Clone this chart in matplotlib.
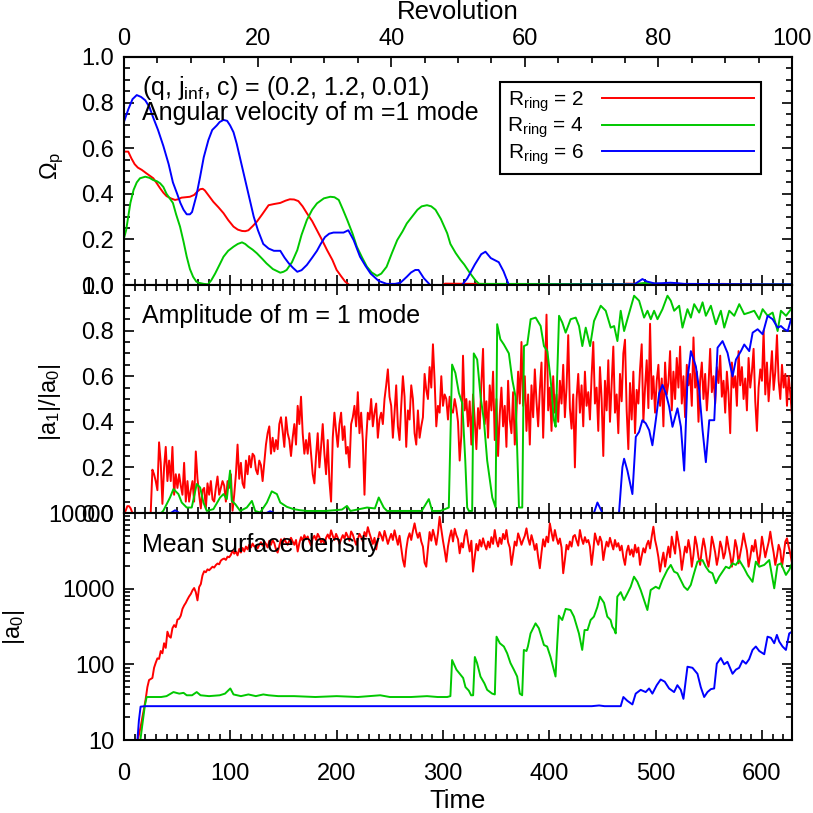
import numpy as np
import matplotlib
matplotlib.use("Agg")
import matplotlib.pyplot as plt
from matplotlib.ticker import MultipleLocator, FixedLocator, LogLocator, FuncFormatter, NullFormatter

plt.rcParams['font.family'] = ['Liberation Sans', 'DejaVu Sans']
plt.rcParams['mathtext.fontset'] = 'custom'
plt.rcParams['mathtext.rm'] = 'Liberation Sans'
plt.rcParams['mathtext.it'] = 'Liberation Sans:italic'
plt.rcParams['mathtext.bf'] = 'Liberation Sans:bold'

# ---- data ----
t_max = 2 * np.pi * 100          # 100 revolutions
rev_period = 2 * np.pi
rev_ticks = [0, 20, 40, 60, 80, 100]

# pattern speed of the m=1 mode (top panel)
t_om_r = [0, 4, 7, 10, 13, 16.7, 21, 24, 27.6, 31, 34, 37, 40, 44, 48, 51, 54, 58, 62, 66, 69, 71.6, 74, 76,
          80, 84, 89, 93.6, 98, 103, 107, 111, 114, 117, 121, 125, 130, 136, 141, 147, 152, 156, 160, 164,
          168, 172, 177, 181.5, 186, 191, 196, 200, 204, 208, 212, 300, 302, 470, 472, 560, 562, 628.3]
om_r = [0.585, 0.585, 0.555, 0.53, 0.515, 0.505, 0.49, 0.48, 0.468, 0.445, 0.424, 0.405, 0.39, 0.38, 0.373,
        0.376, 0.383, 0.385, 0.387, 0.395, 0.41, 0.42, 0.422, 0.415, 0.39, 0.365, 0.34, 0.315, 0.285, 0.256,
        0.243, 0.237, 0.236, 0.24, 0.258, 0.278, 0.31, 0.35, 0.355, 0.36, 0.37, 0.376, 0.375, 0.368, 0.345,
        0.315, 0.28, 0.24, 0.2, 0.153, 0.11, 0.066, 0.04, 0.015, 0.0, 0.0, 0.006, 0.0, 0.006, 0.0, 0.005, 0.0]

t_om_g = [0, 2, 4, 6, 9, 12, 15, 20, 24, 27.6, 31, 34, 37, 40, 43, 46, 49, 52.7, 56, 59, 62, 65, 68, 70, 75,
          79, 82, 85.7, 90, 93.6, 98, 103, 107, 111, 114, 117, 121, 125, 130, 134, 140, 147, 150, 153, 158,
          163, 167, 172, 177, 181.5, 188, 194, 198, 202, 206, 210, 215, 219, 224, 228.5, 233, 238, 242, 247,
          252, 257, 262, 266, 271, 276, 280, 285, 289, 293, 298, 304, 307, 312, 316.5, 320, 325, 330.6, 334,
          480, 490, 500, 510, 628.3]
om_g = [0.205, 0.24, 0.30, 0.36, 0.417, 0.45, 0.468, 0.475, 0.47, 0.46, 0.455, 0.446, 0.43, 0.40, 0.38, 0.36,
        0.31, 0.256, 0.19, 0.124, 0.07, 0.036, 0.015, 0.01, 0.005, 0.003, 0.02, 0.05, 0.09, 0.124, 0.15, 0.168,
        0.18, 0.187, 0.18, 0.168, 0.155, 0.139, 0.115, 0.095, 0.07, 0.054, 0.058, 0.066, 0.1, 0.153, 0.22,
        0.285, 0.33, 0.358, 0.38, 0.387, 0.385, 0.373, 0.33, 0.285, 0.225, 0.168, 0.12, 0.08, 0.055, 0.04,
        0.05, 0.08, 0.14, 0.197, 0.235, 0.27, 0.30, 0.33, 0.345, 0.35, 0.345, 0.33, 0.29, 0.227, 0.18, 0.14,
        0.11, 0.09, 0.055, 0.02, 0.005, 0.004, 0.009, 0.006, 0.003, 0.003]

t_om_b = [0, 4, 8, 12, 16, 20, 24, 27, 32, 37, 42, 46, 50, 53, 56, 59, 62, 64, 68, 71.6, 75, 79.4, 83, 87.3,
          90, 93.6, 97, 99.8, 103, 106, 110, 114, 118, 122, 126, 131, 136, 141, 147, 151, 155, 159, 163, 167,
          172, 177, 181.5, 185, 189, 193, 197, 202, 206.5, 211, 216, 222, 227, 232, 239.5, 247, 255, 260, 266,
          270, 274, 277, 282, 288, 318, 323, 330, 336, 340, 345, 352.5, 357, 362, 480, 484, 487.6, 492, 499,
          506, 514, 520, 527, 600, 628.3]
om_b = [0.716, 0.77, 0.815, 0.833, 0.825, 0.81, 0.78, 0.74, 0.68, 0.61, 0.53, 0.45, 0.40, 0.36, 0.33, 0.31,
        0.31, 0.32, 0.39, 0.475, 0.56, 0.636, 0.68, 0.70, 0.715, 0.724, 0.72, 0.70, 0.67, 0.62, 0.54, 0.46,
        0.38, 0.30, 0.24, 0.18, 0.16, 0.15, 0.15, 0.12, 0.095, 0.075, 0.058, 0.065, 0.088, 0.12, 0.15, 0.18,
        0.21, 0.225, 0.23, 0.23, 0.23, 0.24, 0.197, 0.124, 0.085, 0.05, 0.018, 0.005, 0.005, 0.01, 0.036,
        0.055, 0.066, 0.066, 0.03, 0.0, 0.0, 0.03, 0.09, 0.135, 0.146, 0.118, 0.10, 0.06, 0.0, 0.003, 0.015,
        0.026, 0.015, 0.007, 0.008, 0.01, 0.008, 0.005, 0.003, 0.003]

# |a1|/|a0|, red run sampled every quarter revolution
dt_fine = np.pi / 2
amp_r = [0.0, 0.01, 0.03, 0.03, 0.02, 0.0, 0.0, 0.0, 0.0, 0.0, 0.0, 0.0, 0.0, 0.0, 0.0, 0.0, 0.0, 0.19, 0.17, 0.14,
         0.10, 0.31, 0.22, 0.04, 0.20, 0.29, 0.14, 0.23, 0.14, 0.29, 0.08, 0.17, 0.11, 0.17, 0.12, 0.08, 0.22, 0.05, 0.14, 0.05,
         0.10, 0.14, 0.05, 0.27, 0.15, 0.08, 0.02, 0.10, 0.11, 0.02, 0.13, 0.08, 0.14, 0.06, 0.05, 0.11, 0.16, 0.08, 0.11, 0.14,
         0.12, 0.05, 0.14, 0.11, 0.17, 0.01, 0.08, 0.17, 0.30, 0.15, 0.22, 0.13, 0.11, 0.23, 0.17, 0.25, 0.20, 0.26, 0.25, 0.19,
         0.17, 0.23, 0.21, 0.14, 0.22, 0.30, 0.35, 0.38, 0.26, 0.33, 0.27, 0.32, 0.28, 0.39, 0.42, 0.36, 0.29, 0.42, 0.35, 0.32,
         0.25, 0.33, 0.39, 0.30, 0.47, 0.39, 0.51, 0.35, 0.26, 0.32, 0.26, 0.35, 0.26, 0.17, 0.13, 0.25, 0.35, 0.20, 0.29, 0.39,
         0.26, 0.17, 0.32, 0.14, 0.05, 0.33, 0.44, 0.36, 0.29, 0.39, 0.44, 0.32, 0.38, 0.26, 0.29, 0.20, 0.39, 0.42, 0.47, 0.38,
         0.53, 0.35, 0.44, 0.32, 0.08, 0.32, 0.44, 0.41, 0.50, 0.38, 0.44, 0.48, 0.33, 0.41, 0.44, 0.39, 0.50, 0.56, 0.63, 0.51,
         0.47, 0.33, 0.44, 0.56, 0.38, 0.32, 0.47, 0.60, 0.51, 0.29, 0.45, 0.41, 0.56, 0.50, 0.35, 0.30, 0.45, 0.33, 0.38, 0.42,
         0.61, 0.54, 0.50, 0.64, 0.55, 0.74, 0.58, 0.38, 0.47, 0.44, 0.60, 0.47, 0.52, 0.50, 0.41, 0.51, 0.45, 0.44, 0.50, 0.46,
         0.40, 0.23, 0.34, 0.69, 0.45, 0.50, 0.38, 0.49, 0.30, 0.52, 0.41, 0.28, 0.46, 0.37, 0.57, 0.72, 0.39, 0.49, 0.33, 0.56,
         0.45, 0.62, 0.32, 0.50, 0.25, 0.43, 0.55, 0.38, 0.47, 0.29, 0.58, 0.41, 0.35, 0.53, 0.30, 0.44, 0.62, 0.48, 0.75, 0.47,
         0.60, 0.36, 0.52, 0.30, 0.56, 0.42, 0.63, 0.49, 0.38, 0.54, 0.66, 0.33, 0.58, 0.87, 0.45, 0.55, 0.36, 0.60, 0.44, 0.52,
         0.40, 0.58, 0.48, 0.65, 0.42, 0.55, 0.78, 0.46, 0.37, 0.52, 0.20, 0.50, 0.61, 0.44, 0.56, 0.38, 0.62, 0.47, 0.53, 0.41,
         0.60, 0.75, 0.48, 0.55, 0.36, 0.64, 0.50, 0.25, 0.58, 0.45, 0.67, 0.40, 0.57, 0.73, 0.44, 0.52, 0.35, 0.61, 0.49, 0.70,
         0.76, 0.45, 0.28, 0.57, 0.41, 0.62, 0.35, 0.54, 0.48, 0.63, 0.74, 0.40, 0.55, 0.67, 0.46, 0.83, 0.50, 0.60, 0.44, 0.58,
         0.65, 0.47, 0.59, 0.38, 0.66, 0.52, 0.57, 0.71, 0.45, 0.62, 0.50, 0.68, 0.55, 0.73, 0.48, 0.60, 0.42, 0.65, 0.56, 0.61,
         0.47, 0.77, 0.55, 0.62, 0.40, 0.58, 0.66, 0.50, 0.61, 0.45, 0.56, 0.72, 0.53, 0.60, 0.48, 0.64, 0.57, 0.69, 0.51, 0.58,
         0.44, 0.62, 0.52, 0.35, 0.66, 0.55, 0.60, 0.47, 0.71, 0.56, 0.64, 0.50, 0.59, 0.45, 0.68, 0.55, 0.62, 0.72, 0.49, 0.36,
         0.55, 0.63, 0.58, 0.80, 0.52, 0.66, 0.49, 0.60, 0.71, 0.54, 0.62, 0.78, 0.58, 0.50, 0.65, 0.55, 0.61, 0.47, 0.60, 0.52, 0.43]

t_amp_g = [0, 35, 37, 43.3, 46.5, 51.2, 54.3, 59, 63.7, 68.4, 71.6, 74.7, 77.9, 84.1, 90.4, 93.6, 96.7, 99.8,
           101.4, 104.6, 109.3, 115.5, 120.3, 123.4, 128.1, 134.4, 139, 143.8, 147, 153.2, 159.5, 165.8, 172,
           190, 205, 209.7, 213, 228.6, 236, 239.6, 244.3, 247.4, 280, 286.7, 289.9, 297.7, 305.5, 308.6, 311.7,
           315, 318.2, 321, 322.8, 324.4, 327.5, 329, 332.2, 335.4, 338.5, 341.6, 346.4, 349.5, 351, 354, 357.3,
           362, 365.2, 368.3, 371.5, 374.6, 376.2, 379.3, 382.5, 387.2, 391.9, 395, 398.2, 401.3, 404.4, 406,
           409.2, 412.3, 415.4, 420.1, 424.9, 428, 431.1, 434.3, 438.4, 442.1, 448.4, 453.1, 457.8, 461, 464.1,
           467.2, 470.4, 473.5, 479.8, 484.5, 489.2, 492.4, 495.5, 498.6, 501.8, 506.5, 511.2, 514.3, 517.5,
           522.2, 525.3, 530, 533.2, 536.3, 541, 544.2, 547.3, 552, 556.7, 561.4, 564.6, 569.3, 574, 578.7,
           583.4, 588.1, 592.8, 597.5, 600.7, 605.4, 610.1, 614.8, 617.9, 622.7, 627.4]
amp_g = [0.0, 0.0, 0.01, 0.068, 0.105, 0.083, 0.046, 0.024, 0.024, 0.127, 0.112, 0.046, 0.009, 0.017, 0.068,
         0.083, 0.061, 0.186, 0.053, 0.039, 0.009, 0.024, 0.053, 0.009, 0.002, 0.046, 0.095, 0.083, 0.046, 0.027,
         0.017, 0.012, 0.009, 0.009, 0.015, 0.031, 0.009, 0.024, 0.02, 0.068, 0.024, 0.009, 0.009, 0.061, 0.009,
         0.009, 0.024, 0.651, 0.614, 0.526, 0.481, 0.23, 0.024, 0.009, 0.009, 0.70, 0.673, 0.51, 0.407, 0.23,
         0.068, 0.024, 0.828, 0.762, 0.739, 0.70, 0.585, 0.51, 0.024, 0.024, 0.732, 0.739, 0.85, 0.857, 0.82,
         0.732, 0.71, 0.585, 0.407, 0.378, 0.865, 0.835, 0.791, 0.85, 0.857, 0.82, 0.732, 0.813, 0.732, 0.842,
         0.909, 0.887, 0.813, 0.82, 0.754, 0.887, 0.798, 0.85, 0.953, 0.931, 0.857, 0.887, 0.85, 0.887, 0.85,
         0.894, 0.953, 0.931, 0.887, 0.909, 0.813, 0.894, 0.857, 0.916, 0.879, 0.924, 0.865, 0.909, 0.828, 0.887,
         0.813, 0.887, 0.865, 0.916, 0.872, 0.879, 0.887, 0.85, 0.894, 0.865, 0.879, 0.798, 0.887, 0.865, 0.894]

t_amp_b = [0, 44, 48, 52, 134, 137.5, 141, 442, 445.3, 450, 465.6, 468.8, 470.4, 473.5, 478.2, 481.4, 484.5,
           487.6, 490.8, 494, 497, 500.2, 503.4, 506.5, 509.6, 512.8, 515.9, 520.6, 523.8, 526.9, 530, 533.2,
           537.9, 541, 544.2, 547.3, 550.5, 555.2, 558.3, 563, 567.7, 572.4, 575.6, 580.3, 583.4, 588.1, 591.3,
           596, 600.7, 605.4, 610.1, 614.8, 617.9, 621.1, 624.3, 627.4]
amp_b = [0.0, 0.0, 0.012, 0.0, 0.0, 0.008, 0.0, 0.0, 0.046, 0.0, 0.0, 0.201, 0.238, 0.186, 0.083, 0.334, 0.356,
         0.407, 0.393, 0.363, 0.297, 0.407, 0.526, 0.562, 0.526, 0.466, 0.378, 0.459, 0.378, 0.186, 0.585, 0.71,
         0.643, 0.54, 0.363, 0.223, 0.407, 0.407, 0.725, 0.754, 0.702, 0.599, 0.673, 0.71, 0.739, 0.71, 0.791,
         0.806, 0.784, 0.865, 0.85, 0.813, 0.82, 0.806, 0.798, 0.85]

# |a0|, red run on the same quarter-revolution grid
dens_r = [2, 2.5, 3, 3.5, 4.5, 5.5, 6.5, 8, 9.5, 12, 15, 20, 26, 35, 50, 62, 64, 66, 90, 105,
          120, 118, 150, 140, 190, 165, 270, 235, 225, 300, 330, 310, 390, 400, 440, 540, 600, 650, 720, 790,
          850, 950, 1020, 900, 700, 1050, 1150, 1500, 1700, 1650, 1800, 1750, 1850, 1950, 1900, 2050, 2150, 2100, 2350, 2450,
          2500, 2400, 2650, 2600, 2800, 3200, 2900, 3100, 2750, 3350, 3000, 3450, 3100, 3600, 3300, 3800, 3500, 3950, 3600, 3700,
          3400, 3800, 4100, 3700, 4200, 3900, 3500, 4300, 3800, 4400, 4000, 3300, 3000, 3700, 4500, 3900, 4600, 4100, 3800, 4300,
          4700, 4200, 3800, 4400, 3100, 4000, 4800, 4300, 5100, 4500, 4900, 4200, 3700, 4600, 5000, 4400, 5300, 4800, 4100, 4500,
          3900, 4700, 5200, 4600, 5900, 5000, 4400, 5300, 4700, 3900, 4500, 5100, 4600, 5500, 4900, 4300, 5700, 5200, 4400, 3800,
          4500, 5300, 4800, 4200, 5600, 4900, 6500, 5400, 4600, 3900, 4700, 3300, 4400, 5600, 5000, 4300, 5800, 4800, 3900, 4600,
          5300, 4400, 5900, 4700, 3800, 5000, 3500, 2400, 1950, 3300, 4600, 5400, 4400, 5800, 7300, 5600, 4700, 5500, 4200, 3600,
          2200, 1950, 3400, 5600, 4300, 6000, 4900, 3800, 5400, 8900, 6100, 4300, 3200, 2270, 3600, 4800, 5900, 4200, 6200, 5100,
          4500, 2930, 4000, 3500, 5000, 5960, 4200, 3100, 4300, 1680, 2600, 3900, 3200, 4400, 3600, 4630, 3800, 3300, 4200, 3500,
          4800, 3900, 5960, 4300, 3600, 4700, 3900, 5300, 4500, 5960, 4100, 3500, 2060, 2900, 4200, 3700, 5380, 4600, 3800, 4400,
          5000, 6270, 4600, 3800, 5100, 4200, 3250, 3900, 2600, 1860, 3000, 4500, 3600, 4870, 4100, 7290, 5500, 4300, 5960, 4700,
          3900, 4600, 3500, 1600, 2400, 3800, 3300, 4200, 3600, 4900, 5120, 4300, 3700, 5960, 4600, 3900, 4800, 4100, 4400, 3600,
          2060, 3200, 5380, 4400, 3800, 4870, 4200, 2390, 3300, 4180, 3600, 4700, 3900, 3300, 4400, 3590, 4000, 3200, 3700, 2600,
          2060, 3100, 3700, 2800, 3300, 2650, 3800, 3000, 3500, 2060, 2700, 3420, 3000, 3800, 4300, 3400, 4900, 6590, 4400, 3500,
          2600, 1680, 2300, 3000, 1950, 2700, 3600, 2600, 4870, 3700, 2900, 5670, 4200, 3100, 1770, 2500, 3600, 3000, 4400, 3300,
          1950, 2800, 4870, 3800, 2600, 2060, 3300, 4600, 3500, 2400, 1950, 2800, 4870, 3900, 3000, 2060, 2700, 4200, 3500, 2500,
          3000, 4870, 3600, 2800, 1950, 2700, 4400, 3500, 2160, 2900, 3800, 5380, 4100, 3200, 1950, 2600, 3700, 3100, 4400, 3000,
          2060, 2900, 4870, 3600, 2600, 3300, 4100, 5670, 4000, 3000, 2060, 2700, 3800, 3200, 1950, 2800, 4180, 4630, 3600, 2900, 2160]

t_dens_g = [0, 12, 15, 17, 19.7, 21.3, 25, 35, 40, 46.5, 52, 56, 59, 64, 68.4, 72, 80, 90, 95, 100, 103, 110,
            117, 124, 131, 136, 145, 160, 180, 200, 220, 241, 250, 270, 285, 295, 304, 307, 308.6, 312.7, 315.8,
            319, 321.2, 324.3, 326.5, 328.4, 330, 332.1, 335.3, 339, 341.6, 346.3, 348.8, 350.4, 353.5, 357.3,
            360.4, 363.5, 366.7, 369.8, 372.3, 374.5, 376.1, 378.6, 379.9, 382.4, 387.1, 390.2, 395, 398, 401.2,
            405.9, 407.5, 409, 412.2, 415.4, 420, 423.2, 427.9, 431, 433.2, 436, 438.9, 442, 445.2, 447.7, 451.5,
            454.6, 457.7, 459.3, 461, 462.5, 464, 467.2, 470.3, 473.4, 476.6, 479.7, 482.9, 486, 489.1, 492.3,
            495.4, 500.1, 503.3, 506.4, 511.1, 514.3, 517.4, 520.5, 523.7, 526.8, 530, 533.1, 536.2, 539.4,
            544.1, 547.2, 550.4, 553.5, 556.7, 559.8, 563, 566.1, 569.3, 572.4, 575.5, 578.6, 583.3, 586.5,
            591.2, 594.3, 597.5, 602.2, 606.9, 611.6, 614.7, 617.9, 622.6, 625.7, 628.3]
dens_g = [1, 3, 9, 15, 29, 37, 37, 37, 38, 43, 41, 42, 39, 39, 43, 39, 38, 39, 41, 48, 40, 38, 40, 38, 40, 39,
          38, 38, 37, 38, 37, 39, 37, 37, 38, 37, 37, 38, 114, 85, 75, 66, 50, 45, 39, 39, 125, 104, 69, 56, 46,
          41, 40, 232, 190, 172, 140, 104, 85, 69, 41, 39, 155, 150, 172, 256, 348, 300, 180, 172, 125, 69, 190,
          440, 385, 540, 522, 427, 256, 155, 284, 284, 385, 427, 570, 784, 650, 427, 385, 314, 290, 256, 784,
          900, 708, 860, 1060, 1440, 1230, 960, 708, 522, 960, 1060, 1000, 1300, 1770, 2060, 1680, 1600, 1300,
          1060, 960, 1120, 1600, 2280, 2390, 1950, 1680, 1600, 1180, 1440, 1680, 1950, 1860, 2160, 2060, 2390,
          1860, 1520, 1230, 2280, 1950, 2060, 2390, 1010, 2060, 2160, 1520, 1770, 2160]

t_dens_b = [0, 11, 12.4, 14, 15.6, 20, 100, 200, 300, 400, 440, 446.9, 452, 464, 467.2, 469.7, 473.4, 478.2,
            481.3, 486, 490.7, 493.9, 497, 501.1, 504.8, 508.6, 512.7, 517.4, 520.5, 523.7, 526.2, 530, 534.7,
            539.4, 542.5, 545.7, 548.8, 552, 555.1, 557.6, 561.4, 564.5, 567.6, 572.4, 575.5, 578.6, 581.8, 585,
            588, 591.2, 594.3, 597.5, 602.2, 605.3, 608.5, 611.6, 614.1, 616.3, 619.4, 622.6, 625.7, 628.3]
dens_b = [1, 3, 9, 18, 27.6, 28, 28, 28, 28, 28, 28, 28.6, 28, 28, 28, 37, 33, 29.5, 41, 46, 43, 48, 41, 53, 63,
          59, 48, 43, 53, 46, 35, 93, 90, 75, 50, 37, 43, 47, 48, 102, 121, 100, 108, 75, 85, 90, 112, 102, 117,
          155, 172, 150, 136, 232, 224, 190, 245, 200, 172, 155, 256, 270]

t_fine = np.arange(len(amp_r)) * dt_fine

labels = ['R$_{\\rm ring}$ = 2', 'R$_{\\rm ring}$ = 4', 'R$_{\\rm ring}$ = 6']
colors = ['#ff0000', '#00c800', '#0000ff']

# ---- figure ----
W = 813.0
fig = plt.figure(figsize=(8.13, 8.13), dpi=100)
left, width = 124 / W, 668 / W
ax1 = fig.add_axes([left, 1 - 285 / W, width, 228 / W])
ax2 = fig.add_axes([left, 1 - 513 / W, width, 228 / W])
ax3 = fig.add_axes([left, 1 - 740 / W, width, 227 / W])

lw = 1.4
ax1.plot(t_om_r, om_r, color=colors[0], lw=lw, label=labels[0])
ax1.plot(t_om_g, om_g, color=colors[1], lw=lw, label=labels[1])
ax1.plot(t_om_b, om_b, color=colors[2], lw=lw, label=labels[2])

ax2.plot(t_fine, amp_r, color=colors[0], lw=lw)
ax2.plot(t_amp_g, amp_g, color=colors[1], lw=lw)
ax2.plot(t_amp_b, amp_b, color=colors[2], lw=lw)

ax3.plot(t_fine, dens_r, color=colors[0], lw=lw)
ax3.plot(t_dens_g, dens_g, color=colors[1], lw=lw)
ax3.plot(t_dens_b, dens_b, color=colors[2], lw=lw)
ax3.set_yscale('log')

fs = 17
for ax in (ax1, ax2, ax3):
    ax.set_xlim(0, t_max)
    ax.xaxis.set_major_locator(MultipleLocator(100))
    ax.xaxis.set_minor_locator(MultipleLocator(10))
    ax.tick_params(which='both', direction='in', top=True, right=True, width=1.2,
                   labelsize=fs, pad=7)
    ax.tick_params(which='major', length=7.5)
    ax.tick_params(which='minor', length=4)
    for s in ax.spines.values():
        s.set_linewidth(1.5)

for ax in (ax1, ax2):
    ax.set_ylim(0, 1)
    ax.yaxis.set_major_locator(MultipleLocator(0.2))
    ax.yaxis.set_minor_locator(MultipleLocator(0.05))
    ax.yaxis.set_major_formatter(FuncFormatter(lambda v, p: '%.1f' % v))
    ax.tick_params(axis='x', labelbottom=False)

ax1.tick_params(axis='x', which='both', top=False)

ax3.set_ylim(10, 10000)
ax3.yaxis.set_major_locator(LogLocator(base=10))
ax3.yaxis.set_minor_locator(LogLocator(base=10, subs=np.arange(2, 10)))
ax3.yaxis.set_minor_formatter(NullFormatter())
ax3.yaxis.set_major_formatter(FuncFormatter(lambda v, p: '%d' % round(v)))
ax3.tick_params(axis='x', pad=16.5)

sec = ax1.secondary_xaxis('top', functions=(lambda t: t / rev_period, lambda r: r * rev_period))
sec.xaxis.set_major_locator(FixedLocator(rev_ticks))
sec.xaxis.set_minor_locator(FixedLocator(np.arange(0, 101, 5)))
sec.tick_params(which='both', direction='in', width=1.2, labelsize=fs, pad=5)
sec.tick_params(which='major', length=7.5)
sec.tick_params(which='minor', length=4)
sec.spines['top'].set_linewidth(1.5)

# annotations
ax1.text(0.027, 0.833, '(q, j$_{\\rm inf}$, c) = (0.2, 1.2, 0.01)', transform=ax1.transAxes,
         fontsize=18, va='baseline')
ax1.text(0.027, 0.724, 'Angular velocity of m =1 mode', transform=ax1.transAxes,
         fontsize=18, va='baseline')
ax2.text(0.027, 0.833, 'Amplitude of m = 1 mode', transform=ax2.transAxes,
         fontsize=18, va='baseline')
ax3.text(0.027, 0.828, 'Mean surface density', transform=ax3.transAxes,
         fontsize=18, va='baseline')

leg = ax1.legend(loc='upper left', bbox_to_anchor=(500 / W, 1 - 82 / W), bbox_transform=fig.transFigure,
                 borderaxespad=0, markerfirst=False, fancybox=False, framealpha=1, edgecolor='black',
                 fontsize=15, handlelength=7.3, handletextpad=0.85, borderpad=0.35, labelspacing=0.1)
leg.get_frame().set_linewidth(1.5)

# axis titles
fig.text(52 / W, 1 - 166 / W, 'Ω$_{\\rm p}$', rotation=90, ha='center', va='center', fontsize=fs)
fig.text(50 / W, 1 - 402 / W, '|a$_1$|/|a$_0$|', rotation=90, ha='center', va='center', fontsize=fs)
fig.text(14 / W, 1 - 627 / W, '|a$_0$|', rotation=90, ha='center', va='center', fontsize=fs)
fig.text(458 / W, 1 - 12 / W, 'Revolution', ha='center', va='center', fontsize=18.5)
fig.text(458 / W, 1 - 801 / W, 'Time', ha='center', va='center', fontsize=18.5)

fig.savefig('out.png', dpi=100)
